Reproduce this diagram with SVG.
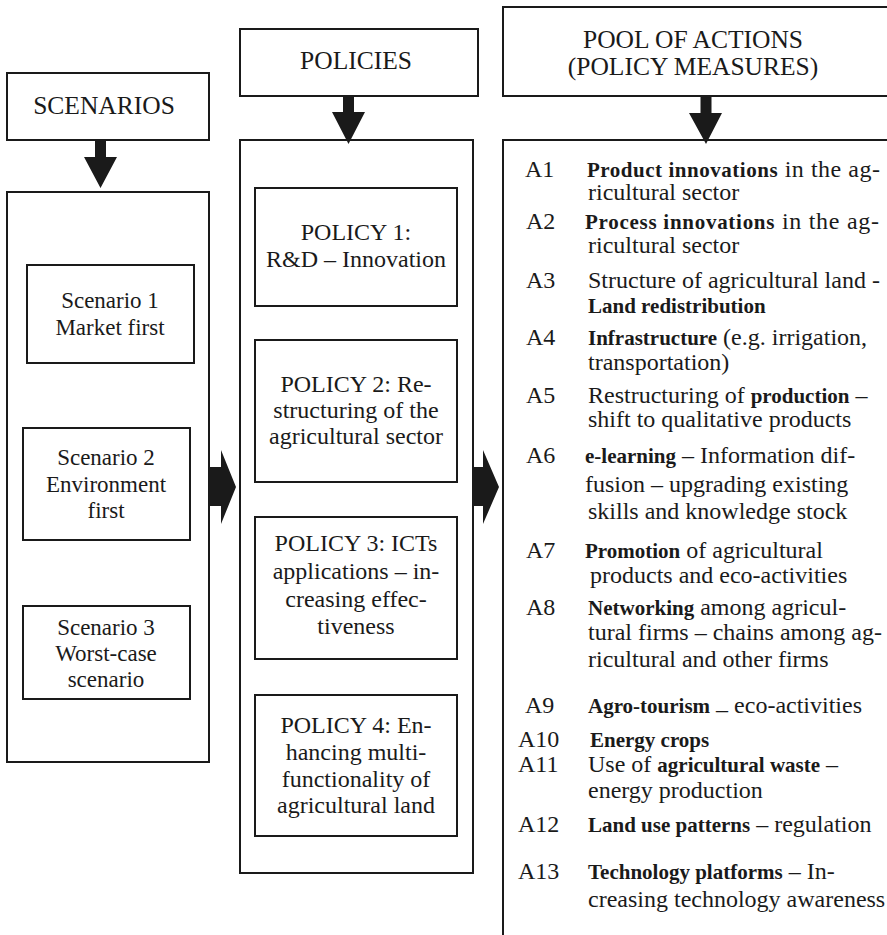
<svg xmlns="http://www.w3.org/2000/svg" width="887" height="935" viewBox="0 0 887 935" font-family="'Liberation Serif', 'Times New Roman', serif">
<style>
  .box { fill: #ffffff; stroke: #1a1a1a; stroke-width: 2; }
  .arrow { fill: #1a1a1a; stroke: none; }
  text { font-family: "Liberation Serif", "Times New Roman", serif; fill: #1a1a1a; }
  .hdr { font-size: 25.5px; text-anchor: middle; }
  .sc { font-size: 23px; text-anchor: middle; }
  .pol { font-size: 24px; text-anchor: middle; }
  .act { font-size: 24px; }
  .b { font-weight: bold; font-size: 21px; }
</style>
<rect x="0" y="0" width="887" height="935" fill="#ffffff"/>

<g id="scenarios-header">
  <rect class="box" x="7" y="73" width="202" height="67"/>
  <text class="hdr" x="104" y="114">SCENARIOS</text>
</g>
<g id="policies-header">
  <rect class="box" x="240" y="29" width="238" height="67"/>
  <text class="hdr" x="356" y="69">POLICIES</text>
</g>
<g id="actions-header">
  <rect class="box" x="503" y="7" width="400" height="89"/>
  <text class="hdr" x="693" y="48">POOL OF ACTIONS</text>
  <text class="hdr" x="693" y="75">(POLICY MEASURES)</text>
</g>

<g id="scenarios">
  <rect class="box" x="7" y="192" width="202" height="570"/>
  <g id="scenario1">
    <rect class="box" x="27" y="265" width="167" height="98"/>
    <text class="sc" x="110" y="308">Scenario 1</text>
    <text class="sc" x="110" y="335">Market first</text>
  </g>
  <g id="scenario2">
    <rect class="box" x="23" y="428" width="167" height="112"/>
    <text class="sc" x="106" y="465">Scenario 2</text>
    <text class="sc" x="106" y="492">Environment</text>
    <text class="sc" x="106" y="518">first</text>
  </g>
  <g id="scenario3">
    <rect class="box" x="23" y="606" width="167" height="93"/>
    <text class="sc" x="106" y="635">Scenario 3</text>
    <text class="sc" x="106" y="661">Worst-case</text>
    <text class="sc" x="106" y="687">scenario</text>
  </g>
</g>

<g id="policies">
  <rect class="box" x="240" y="140" width="233" height="733"/>
  <g id="policy1">
    <rect class="box" x="255" y="188" width="202" height="118"/>
    <text class="pol" x="356" y="240">POLICY 1:</text>
    <text class="pol" x="356" y="267">R&amp;D – Innovation</text>
  </g>
  <g id="policy2">
    <rect class="box" x="255" y="340" width="202" height="142"/>
    <text class="pol" x="356" y="392">POLICY 2: Re-</text>
    <text class="pol" x="356" y="418">structuring of the</text>
    <text class="pol" x="356" y="444">agricultural sector</text>
  </g>
  <g id="policy3">
    <rect class="box" x="255" y="517" width="202" height="142"/>
    <text class="pol" x="356" y="551">POLICY 3: ICTs</text>
    <text class="pol" x="356" y="579">applications – in-</text>
    <text class="pol" x="356" y="607">creasing effec-</text>
    <text class="pol" x="356" y="634">tiveness</text>
  </g>
  <g id="policy4">
    <rect class="box" x="255" y="695" width="202" height="141"/>
    <text class="pol" x="356" y="733">POLICY 4: En-</text>
    <text class="pol" x="356" y="760">hancing multi-</text>
    <text class="pol" x="356" y="787">functionality of</text>
    <text class="pol" x="356" y="813">agricultural land</text>
  </g>
</g>

<g id="actions">
  <rect class="box" x="503" y="140" width="400" height="820"/>
  <text class="act" x="525" y="177">A1</text>
  <text class="act" x="587" y="177" textLength="293"><tspan class="b">Product innovations</tspan>  in the ag-</text>
  <text class="act" x="588" y="200">ricultural sector</text>

  <text class="act" x="526" y="229">A2</text>
  <text class="act" x="585" y="229" textLength="294"><tspan class="b">Process innovations</tspan>  in the ag-</text>
  <text class="act" x="588" y="253">ricultural sector</text>

  <text class="act" x="526" y="288">A3</text>
  <text class="act" x="588" y="288">Structure of agricultural land -</text>
  <text class="act b" x="588" y="313">Land redistribution</text>

  <text class="act" x="526" y="345">A4</text>
  <text class="act" x="588" y="345"><tspan class="b">Infrastructure</tspan>  (e.g. irrigation,</text>
  <text class="act" x="588" y="370">transportation)</text>

  <text class="act" x="526" y="403">A5</text>
  <text class="act" x="588" y="403">Restructuring of <tspan class="b">production</tspan> –</text>
  <text class="act" x="588" y="427">shift to qualitative products</text>

  <text class="act" x="526" y="463">A6</text>
  <text class="act" x="585" y="463"><tspan class="b">e-learning</tspan>  – Information dif-</text>
  <text class="act" x="585" y="492">fusion – upgrading existing</text>
  <text class="act" x="588" y="519">skills and knowledge stock</text>

  <text class="act" x="526" y="558">A7</text>
  <text class="act" x="585" y="558"><tspan class="b">Promotion</tspan>  of agricultural</text>
  <text class="act" x="590" y="583">products and eco-activities</text>

  <text class="act" x="526" y="615">A8</text>
  <text class="act" x="588" y="615"><tspan class="b">Networking</tspan> among agricul-</text>
  <text class="act" x="588" y="640">tural firms – chains among ag-</text>
  <text class="act" x="588" y="667">ricultural and other firms</text>

  <text class="act" x="525" y="713">A9</text>
  <text class="act" x="588" y="713"><tspan class="b">Agro-tourism</tspan>  <tspan dy="4">–</tspan><tspan dy="-4"> eco-activities</tspan></text>

  <text class="act" x="518" y="747">A10</text>
  <text class="act b" x="590" y="747">Energy crops</text>

  <text class="act" x="518" y="772">A11</text>
  <text class="act" x="588" y="772">Use of <tspan class="b">agricultural waste</tspan> –</text>
  <text class="act" x="588" y="798">energy production</text>

  <text class="act" x="518" y="832">A12</text>
  <text class="act" x="588" y="832"><tspan class="b">Land use patterns</tspan> – regulation</text>

  <text class="act" x="518" y="879">A13</text>
  <text class="act" x="588" y="879"><tspan class="b">Technology platforms</tspan> – In-</text>
  <text class="act" x="588" y="907">creasing technology awareness</text>
</g>

<g id="connectors">
  <polygon class="arrow" points="95,140 106,140 106,157 117,157 100.5,188 84,157 95,157"/>
  <polygon class="arrow" points="343,96 354,96 354,112 365,112 348.5,144 332,112 343,112"/>
  <polygon class="arrow" points="700.5,96 711.5,96 711.5,113 722,113 706,144 689,113 700.5,113"/>
  <polygon class="arrow" points="209,467 221,467 221,450 236,487 221,524 221,506 209,506"/>
  <polygon class="arrow" points="473,467 483,467 483,450 499,487 483,524 483,506 473,506"/>
</g>
</svg>
